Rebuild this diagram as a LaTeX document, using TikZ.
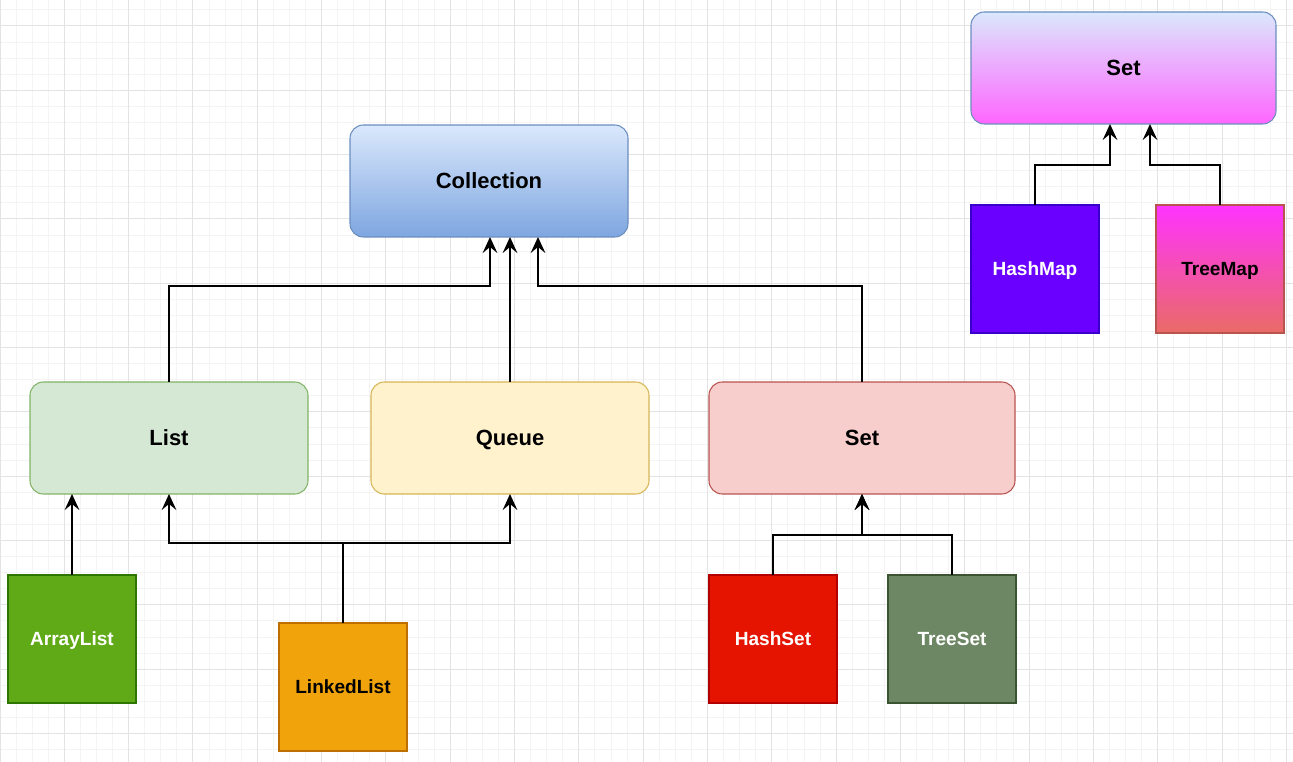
\documentclass[tikz,border=0pt]{standalone}
\usepackage{fontspec}
\setmainfont{Liberation Sans}
\usetikzlibrary{arrows.meta,calc}
\definecolor{gminor}{HTML}{F4F4F4}
\definecolor{gmajor}{HTML}{E3E3E3}
\definecolor{blueT}{HTML}{DAE8FC}
\definecolor{blueB}{HTML}{7EA6E0}
\definecolor{blueS}{HTML}{6C8EBF}
\definecolor{greenF}{HTML}{D5E8D4}
\definecolor{greenS}{HTML}{82B366}
\definecolor{yelF}{HTML}{FFF2CC}
\definecolor{yelS}{HTML}{D6B656}
\definecolor{redF}{HTML}{F8CECC}
\definecolor{redS}{HTML}{B85450}
\definecolor{magB}{HTML}{FF66FF}
\definecolor{alF}{HTML}{60A917}
\definecolor{alS}{HTML}{2D7600}
\definecolor{llF}{HTML}{F0A30A}
\definecolor{llS}{HTML}{BD7000}
\definecolor{hsF}{HTML}{E51400}
\definecolor{hsS}{HTML}{B20000}
\definecolor{tsF}{HTML}{6D8764}
\definecolor{tsS}{HTML}{3A5431}
\definecolor{hmF}{HTML}{6A00FF}
\definecolor{hmS}{HTML}{3700CC}
\definecolor{tmT}{HTML}{FF33FF}
\definecolor{tmB}{HTML}{EA6B66}
\tikzset{
  minorline/.style={gminor, line width=0.75pt},
  majorline/.style={gmajor, line width=0.75pt},
  bigbox/.style={rounded corners=10pt, minimum width=208.5pt, minimum height=84pt,
    inner sep=0pt, outer sep=0pt, line width=0.8pt, text height=11.8pt, text depth=0pt,
    font=\fontsize{16.5}{20}\selectfont\bfseries},
  smallbox/.style={minimum width=96pt, minimum height=96pt,
    inner sep=0pt, outer sep=0pt, line width=0.8pt, text height=10.2pt, text depth=0pt,
    font=\fontsize{14.3}{17}\selectfont\bfseries},
  conn/.style={line width=1.1pt, -{Stealth[length=12pt,width=11pt,inset=4.5pt]}}
}
\begin{document}
\begin{tikzpicture}[x=0.75pt,y=-0.75pt]
\useasboundingbox (0,0) rectangle (1293,762);
\fill[white] (0,0) rectangle (1293,762);
% grid
\foreach \i in {0,...,80} { \draw[minorline] (\i*16.08,0) -- (\i*16.08,762); }
\foreach \i in {-1,...,46} { \draw[minorline] (0,26+\i*16.08) -- (1293,26+\i*16.08); }
\foreach \i in {0,...,20} { \draw[majorline] (\i*64.32,0) -- (\i*64.32,762); }
\foreach \i in {0,...,11} { \draw[majorline] (0,26+\i*64.32) -- (1293,26+\i*64.32); }

% nodes
\node[bigbox, draw=blueS, top color=blueT, bottom color=blueB] (coll) at (489,181) {Collection};
\node[bigbox, draw=greenS, fill=greenF] (list) at (169,438) {List};
\node[bigbox, draw=yelS, fill=yelF] (queue) at (510,438) {Queue};
\node[bigbox, minimum width=229.5pt, draw=redS, fill=redF] (set) at (862,438) {Set};
\node[bigbox, minimum width=228.75pt, draw=blueS, top color=blueT, bottom color=magB] (settop) at (1123.5,68) {Set};
\node[smallbox, draw=alS, fill=alF, text=white] (al) at (72,639) {ArrayList};
\node[smallbox, draw=llS, fill=llF, text=black] (ll) at (343,687) {LinkedList};
\node[smallbox, draw=hsS, fill=hsF, text=white] (hs) at (773,639) {HashSet};
\node[smallbox, draw=tsS, fill=tsF, text=white] (ts) at (952,639) {TreeSet};
\node[smallbox, draw=hmS, fill=hmF, text=white] (hm) at (1035,269) {HashMap};
\node[smallbox, draw=redS, top color=tmT, bottom color=tmB, text=black] (tm) at (1220,269) {TreeMap};

% connectors
\draw[conn] (list.north) -- ++(0,-96) -| ([xshift=0.75pt]coll.south);
\draw[conn] (queue.north) -- (queue.north |- coll.south);
\draw[conn] (set.north) -- ++(0,-96) -| ([xshift=36.75pt]coll.south);
\draw[conn] (al.north) -- (al.north |- list.south);
\draw[conn] (ll.north) -- ++(0,-80) -| (list.south);
\draw[conn] (ll.north) -- ++(0,-80) -| (queue.south);
\draw[conn] (hs.north) -- ++(0,-40) -| (set.south);
\draw[conn] (ts.north) -- ++(0,-40) -| (set.south);
\draw[conn] (hm.north) -- ++(0,-40) -| ([xshift=-10.125pt]settop.south);
\draw[conn] (tm.north) -- ++(0,-40) -| ([xshift=19.875pt]settop.south);
\end{tikzpicture}
\end{document}
